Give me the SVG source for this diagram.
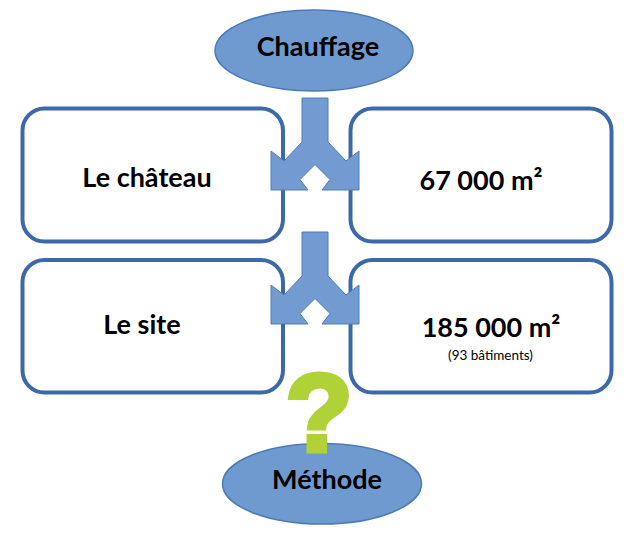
<svg xmlns="http://www.w3.org/2000/svg" width="643" height="539" viewBox="0 0 643 539">
<style>
.box{fill:#ffffff;stroke:#3C69A9;stroke-width:4}
.ell{fill:#6F9AD0;stroke:#4A7BB8;stroke-width:1.5}
.arr{fill:#739BD1;stroke:#4E7DBA;stroke-width:1}
.lbl{font-family:Lato,"Liberation Sans",sans-serif;font-weight:700;font-size:27px;fill:#000;text-anchor:middle}
.sub{font-family:Lato,"Liberation Sans",sans-serif;font-weight:400;font-size:13.5px;fill:#000;text-anchor:middle}
.q{font-family:"Liberation Sans",Arial,sans-serif;font-weight:700;font-size:110px;fill:#B1D236;stroke:#B1D236;stroke-width:5;text-anchor:middle}
</style>
<defs>
<path id="split" class="arr" d="M302,98 H328 V142 L346,161 L359,151 V190 H322 L330,179.5 L315,164.5 L300,179.5 L308,190 H271 V151 L284,161 L302,142 Z"/>
</defs>
<rect width="643" height="539" fill="#ffffff"/>
<g id="chauffage">
<ellipse class="ell" cx="314" cy="50.5" rx="99" ry="40.5"/>
<text class="lbl" x="318" y="56">Chauffage</text>
</g>
<g id="chateau">
<rect class="box" x="22.5" y="108.5" width="260.5" height="133" rx="22"/>
<text class="lbl" x="147" y="187">Le château</text>
</g>
<g id="surface-chateau">
<rect class="box" x="350.5" y="108.5" width="261" height="133" rx="22"/>
<text class="lbl" x="481" y="190">67 000 m²</text>
</g>
<g id="site">
<rect class="box" x="22.5" y="260" width="260.5" height="132.5" rx="22"/>
<text class="lbl" x="142" y="334">Le site</text>
</g>
<g id="surface-site">
<rect class="box" x="350.5" y="260" width="261" height="132.5" rx="22"/>
<text class="lbl" x="491" y="337">185 000 m²</text>
<text class="sub" x="490.5" y="360">(93 bâtiments)</text>
</g>
<g id="connectors">
<use href="#split"/>
<use href="#split" transform="translate(0,134)"/>
</g>
<g id="methode">
<ellipse class="ell" cx="322" cy="483.7" rx="99.5" ry="40.3"/>
<text class="lbl" x="327" y="489">Méthode</text>
</g>
<g id="question">
<text class="q" x="319" y="451">?</text>
</g>
</svg>
